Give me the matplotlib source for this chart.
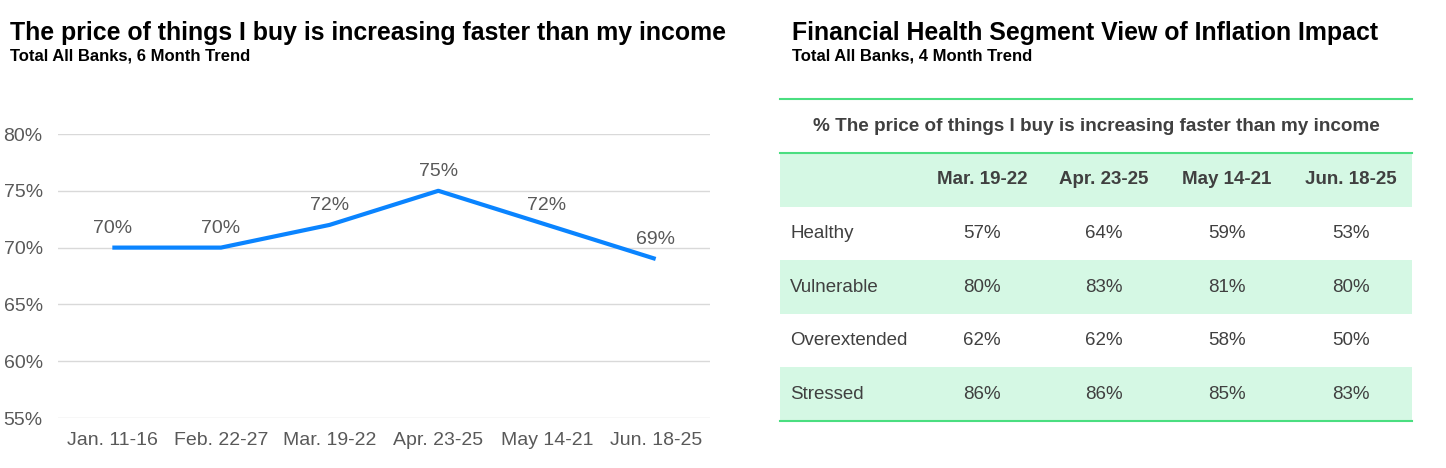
import matplotlib.pyplot as plt
import numpy as np

plt.rcParams['font.family'] = ['Liberation Sans', 'DejaVu Sans']

# left chart data
periods = ['Jan. 11-16', 'Feb. 22-27', 'Mar. 19-22', 'Apr. 23-25', 'May 14-21', 'Jun. 18-25']
pct_total = [70, 70, 72, 75, 72, 69]
y_ticks = [55, 60, 65, 70, 75, 80]

# right table data
tbl_cols = ['Mar. 19-22', 'Apr. 23-25', 'May 14-21', 'Jun. 18-25']
segments = ['Healthy', 'Vulnerable', 'Overextended', 'Stressed']
healthy = [57, 64, 59, 53]
vulnerable = [80, 83, 81, 80]
overextended = [62, 62, 58, 50]
stressed = [86, 86, 85, 83]

W, H = 1446, 468
fig = plt.figure(figsize=(W / 100, H / 100), dpi=100)

def fx(px):
    return px / W

def fy(py):
    return 1 - py / H

# titles
fig.text(fx(10), fy(33), 'The price of things I buy is increasing faster than my income',
         fontsize=17.9, fontweight='bold', va='center', ha='left')
fig.text(fx(10), fy(56), 'Total All Banks, 6 Month Trend',
         fontsize=12, fontweight='bold', va='center', ha='left')
fig.text(fx(792), fy(33), 'Financial Health Segment View of Inflation Impact',
         fontsize=17.9, fontweight='bold', va='center', ha='left')
fig.text(fx(792), fy(56), 'Total All Banks, 4 Month Trend',
         fontsize=12, fontweight='bold', va='center', ha='left')

# line chart
ax = fig.add_axes([fx(58), fy(418), fx(710 - 58), (418 - 134) / H])
x = np.arange(len(periods))
ax.plot(x, pct_total, color='#0A84FF', lw=3, solid_capstyle='butt')
for xi, v in zip(x, pct_total):
    ax.annotate(f'{v}%', (xi, v), xytext=(0, 14), textcoords='offset points',
                ha='center', va='center', fontsize=14, color='#595959')
ax.set_xlim(-0.5, len(periods) - 0.5)
ax.set_ylim(55, 80)
ax.set_yticks(y_ticks)
ax.set_yticklabels([f'{t}%' for t in y_ticks])
ax.set_xticks(x)
ax.set_xticklabels(periods)
ax.grid(axis='y', color='#D9D9D9', lw=1)
ax.set_axisbelow(True)
for s in ax.spines.values():
    s.set_visible(False)
ax.tick_params(length=0, labelsize=14, colors='#595959')
ax.tick_params(axis='x', pad=10)
ax.tick_params(axis='y', pad=11)

# table
tw, th = 632, 322
tax = fig.add_axes([fx(780), fy(421), fx(tw), th / H])
tax.set_xlim(0, tw)
tax.set_ylim(th, 0)
tax.axis('off')

green = '#D5F8E4'
line_c = '#4ADE80'
txt_c = '#404040'
col_x = [202, 324, 447, 571]
title_h = 54
row_h = 53.6

tax.text(tw / 2, title_h / 2, '% The price of things I buy is increasing faster than my income',
         ha='center', va='center', fontsize=13.6, fontweight='bold', color=txt_c)
tax.axhspan(title_h, title_h + row_h, color=green, lw=0)
for cx, c in zip(col_x, tbl_cols):
    tax.text(cx, title_h + row_h / 2, c, ha='center', va='center',
             fontsize=13.5, fontweight='bold', color=txt_c)

rows = [healthy, vulnerable, overextended, stressed]
for i, (name, vals) in enumerate(zip(segments, rows)):
    top = title_h + row_h * (i + 1)
    if i % 2 == 1:
        tax.axhspan(top, top + row_h, color=green, lw=0)
    tax.text(10, top + row_h / 2, name, ha='left', va='center', fontsize=13.5, color=txt_c)
    for cx, v in zip(col_x, vals):
        tax.text(cx, top + row_h / 2, f'{v}%', ha='center', va='center',
                 fontsize=13.5, color=txt_c)
for yl in (0, title_h, th):
    tax.axhline(yl, color=line_c, lw=1.5, clip_on=False)

fig.savefig('out.png', dpi=100)
